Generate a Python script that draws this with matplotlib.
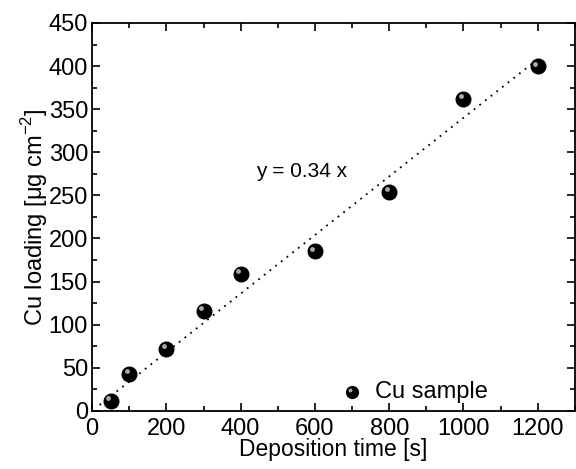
import matplotlib
matplotlib.use('Agg')
import matplotlib.pyplot as plt
from matplotlib.transforms import offset_copy
from matplotlib.ticker import MultipleLocator

plt.rcParams['font.family'] = ['Liberation Sans', 'DejaVu Sans']
plt.rcParams['mathtext.fontset'] = 'custom'
plt.rcParams['mathtext.rm'] = 'Liberation Sans'

# data
time_s = [50, 100, 200, 300, 400, 600, 800, 1000, 1200]
cu_loading = [12, 43, 72, 116, 159, 185, 254, 362, 400]
fit_slope = 0.34
fit_x = [20, 1200]

fig = plt.figure(figsize=(5.76, 4.69), dpi=100)
ax = fig.add_axes([0.16, 0.124, 0.838, 0.827])

ax.plot(fit_x, [fit_slope * x for x in fit_x], color='black', ls=(0, (1, 3)), lw=1.3)

ax.plot(time_s, cu_loading, 'o', color='black', ms=10.5, zorder=3)
shine = offset_copy(ax.transData, fig=fig, x=-1.8, y=1.8, units='points')
ax.plot(time_s, cu_loading, 'o', color='#a8a8a8', ms=3.5, mec='none', transform=shine, zorder=4)

# legend drawn by hand like the original
ax.plot([700], [22], 'o', color='black', ms=8.5, zorder=3)
ax.plot([700], [22], 'o', color='#a8a8a8', ms=2.8, mec='none',
        transform=offset_copy(ax.transData, fig=fig, x=-1.5, y=1.5, units='points'), zorder=4)
ax.text(762, 22, 'Cu sample', fontsize=17, va='center')

ax.text(440, 278, 'y = 0.34 x', fontsize=15, va='center')

ax.set_xlim(0, 1300)
ax.set_ylim(0, 450)
ax.xaxis.set_major_locator(MultipleLocator(200))
ax.xaxis.set_minor_locator(MultipleLocator(100))
ax.yaxis.set_major_locator(MultipleLocator(50))
ax.yaxis.set_minor_locator(MultipleLocator(25))
ax.tick_params(which='both', direction='in', top=True, right=True, labelsize=17, width=1.2)
ax.tick_params(which='major', length=6)
ax.tick_params(axis='x', which='major', pad=5.5)
ax.tick_params(axis='y', which='major', pad=3)
ax.tick_params(which='minor', length=3.5)
for s in ax.spines.values():
    s.set_linewidth(1.3)

ax.set_xlabel('Deposition time [s]', fontsize=16.5, labelpad=-1.5)
ax.set_ylabel('Cu loading [\u03bcg cm$^{-2}$]', fontsize=17, labelpad=-1)

fig.savefig('out.png', dpi=100)
